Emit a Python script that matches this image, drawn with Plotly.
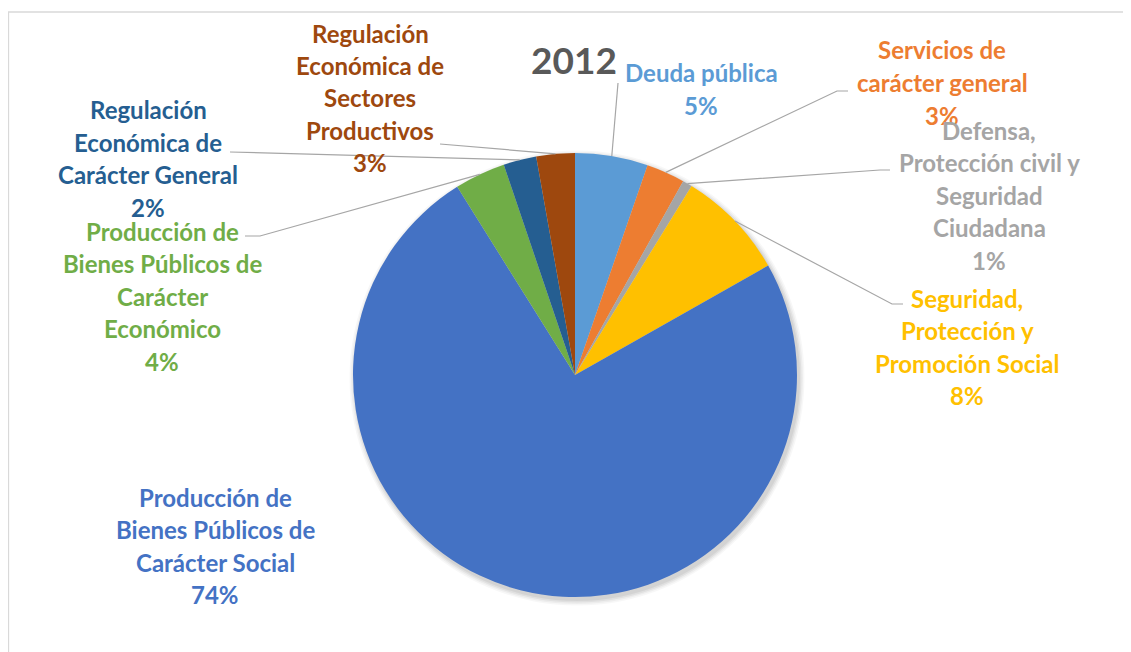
import math
import plotly.graph_objects as go

# ---------------- data ----------------
categories = [
    "Deuda pública",
    "Servicios de carácter general",
    "Defensa, Protección civil y Seguridad Ciudadana",
    "Seguridad, Protección y Promoción Social",
    "Producción de Bienes Públicos de Carácter Social",
    "Producción de Bienes Públicos de Carácter Económico",
    "Regulación Económica de Carácter General",
    "Regulación Económica de Sectores Productivos",
]
values = [5.3, 2.8, 0.7, 8.0, 74.3, 3.7, 2.4, 2.8]
label_lines = [
    ["Deuda pública"],
    ["Servicios de", "carácter general"],
    ["Defensa,", "Protección civil y", "Seguridad", "Ciudadana"],
    ["Seguridad,", "Protección y", "Promoción Social"],
    ["Producción de", "Bienes Públicos de", "Carácter Social"],
    ["Producción de", "Bienes Públicos de", "Carácter", "Económico"],
    ["Regulación", "Económica de", "Carácter General"],
    ["Regulación", "Económica de", "Sectores", "Productivos"],
]
title_text = "2012"

# ---------------- styling / layout ----------------
colors = ["#5B9BD5", "#ED7D31", "#A5A5A5", "#FFC000",
          "#4472C4", "#70AD47", "#255E91", "#9E480E"]
W, H = 1131, 652
OFF = 8                             # page body margin
CX, CY, R = 575, 375, 222          # pie centre / radius in pixels
FONT = "Lato"
FS = 24
LINE_H = 32.5

# label block: (centre x, first line y) in pixels
label_pos = [
    (701, 73), (942, 50), (989, 130), (967, 298),
    (215, 497), (162, 231), (148, 110), (370, 33),
]
# leader line points after the slice edge (pixels); None = no line
leader_pts = [
    [(618, 83)],
    [(837, 91), (848, 91)],
    [(880, 170), (890, 170)],
    [(892, 304), (903, 304)],
    None,
    [(260, 236), (245, 236)],
    [(230, 152)],
    [(440, 144)],
]


def px(x):
    return (x - OFF) / W


def py(y):
    return 1 - (y - OFF) / H


fig = go.Figure()
fig.add_trace(go.Pie(
    labels=categories,
    values=values,
    sort=False,
    direction="clockwise",
    rotation=0,
    marker=dict(colors=colors, line=dict(width=0)),
    textinfo="none",
    hoverinfo="label+percent",
    showlegend=False,
    domain=dict(x=[px(CX - R), px(CX + R)], y=[py(CY + R), py(CY - R)]),
))

annotations = []
shapes = []

# frame
shapes.append(dict(type="rect", xref="paper", yref="paper",
                   x0=px(8.5), x1=px(W + 30), y0=py(H + 30), y1=py(12),
                   line=dict(color="#D9D9D9", width=1.3), layer="below"))

# soft shadow behind pie
for k, op in enumerate([0.06, 0.05, 0.04, 0.03]):
    rr = R + 1 + k * 1.5
    shapes.append(dict(type="circle", xref="paper", yref="paper",
                       x0=px(CX + 2 - rr), x1=px(CX + 2 + rr),
                       y0=py(CY + 3 + rr), y1=py(CY + 3 - rr),
                       fillcolor=f"rgba(0,0,0,{op})", line=dict(width=0),
                       layer="below"))

total = sum(values)
cum = 0.0
for i, v in enumerate(values):
    frac = v / total
    mid = (cum + frac / 2) * 2 * math.pi
    cum += frac
    pct = round(frac * 100)
    lines = label_lines[i] + [f"{pct}%"]
    lx, ly = label_pos[i]
    for j, t in enumerate(lines):
        annotations.append(dict(
            x=px(lx), y=py(ly + j * LINE_H), xref="paper", yref="paper",
            text=f"<b>{t}</b>", showarrow=False, xanchor="center",
            yanchor="middle", font=dict(family=FONT, size=FS, color=colors[i])))
    if leader_pts[i]:
        ex = CX + R * math.sin(mid)
        ey = CY - R * math.cos(mid)
        pts = [(ex, ey)] + leader_pts[i]
        path = "M " + " L ".join(f"{px(a):.5f},{py(b):.5f}" for a, b in pts)
        shapes.append(dict(type="path", xref="paper", yref="paper", path=path,
                           line=dict(color="#A6A6A6", width=1.2)))

annotations.append(dict(
    x=px(574), y=py(60), xref="paper", yref="paper",
    text=f"<b>{title_text}</b>", showarrow=False, xanchor="center",
    yanchor="middle", font=dict(family=FONT, size=37, color="#595959")))

fig.update_layout(
    width=W, height=H,
    margin=dict(l=0, r=0, t=0, b=0),
    paper_bgcolor="white",
    plot_bgcolor="white",
    annotations=annotations,
    shapes=shapes,
)

fig.write_html("out.html", config={"displayModeBar": False})
